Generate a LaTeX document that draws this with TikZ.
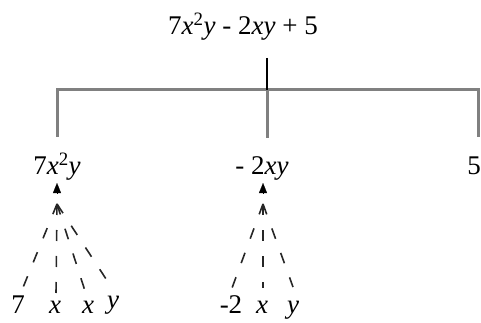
\documentclass[tikz,border=0pt]{standalone}
\usepackage{fontspec}
\setmainfont{Liberation Serif}
\usetikzlibrary{arrows.meta}
\begin{document}
\begin{tikzpicture}[x=1pt,y=-1pt,
  lbl/.style={inner sep=0pt,font=\fontsize{27}{30}\selectfont},
  treeline/.style={draw=black!50,line width=3pt},
  stem/.style={draw=black,line width=1.6pt},
  fan/.style={draw=black!85,line width=1.6pt,dash pattern=on 11pt off 15pt},
  up/.style={-{Triangle[width=8pt,length=10pt]},line width=0.1pt}]
\useasboundingbox (0,0) rectangle (481,323);
% top expression
\node[lbl,anchor=base] (top) at (243,35) {7\textit{x}\textsuperscript{2}\textit{y} - 2\textit{xy} + 5};
\coordinate (t) at (267,58);
\coordinate (j) at (267,90);
% level two
\node[lbl,anchor=base] (a) at (57,175) {7\textit{x}\textsuperscript{2}\textit{y}};
\node[lbl,anchor=base] (b) at (262,175) {- 2\textit{xy}};
\node[lbl,anchor=base east] (c) at (481,175) {5};
\coordinate (ja) at (57,90);
\coordinate (jc) at (478,90);
\coordinate (ea) at (57,137);
\coordinate (eb) at (267,138);
\coordinate (ec) at (478,137);
\draw[treeline] (ea) -- (ja) -- (jc) -- (ec);
\draw[treeline] (j) -- (eb);
\draw[stem] (t) -- (j);
% leaves
\node[lbl,anchor=base] (l1) at (18,313) {7};
\node[lbl,anchor=base] (l2) at (55,313) {\textit{x}};
\node[lbl,anchor=base] (l3) at (88,313) {\textit{x}};
\node[lbl,anchor=base] (l4) at (113,308) {\textit{y}};
\node[lbl,anchor=base] (m1) at (231,313) {-2};
\node[lbl,anchor=base] (m2) at (262,313) {\textit{x}};
\node[lbl,anchor=base] (m3) at (293,313) {\textit{y}};
% arrowheads under the terms
\coordinate (aa) at (57,193);
\coordinate (ab) at (263,193);
\coordinate (ta) at (57,183);
\coordinate (tb) at (263,183);
\draw[up] (aa) -- (ta);
\draw[up] (ab) -- (tb);
% fans
\coordinate (pa) at (57,204);
\coordinate (pb) at (263,204);
\coordinate (la1) at (22,290);
\coordinate (la2) at (56,294);
\coordinate (la3) at (86,294);
\coordinate (la4) at (110,285);
\coordinate (lb1) at (232,288);
\coordinate (lb2) at (263,288);
\coordinate (lb3) at (293,287);
\draw[fan] (pa) -- (la1);
\draw[fan] (pa) -- (la2);
\draw[fan] (pa) -- (la3);
\draw[fan] (pa) -- (la4);
\draw[fan] (pb) -- (lb1);
\draw[fan] (pb) -- (lb2);
\draw[fan] (pb) -- (lb3);
\end{tikzpicture}
\end{document}
